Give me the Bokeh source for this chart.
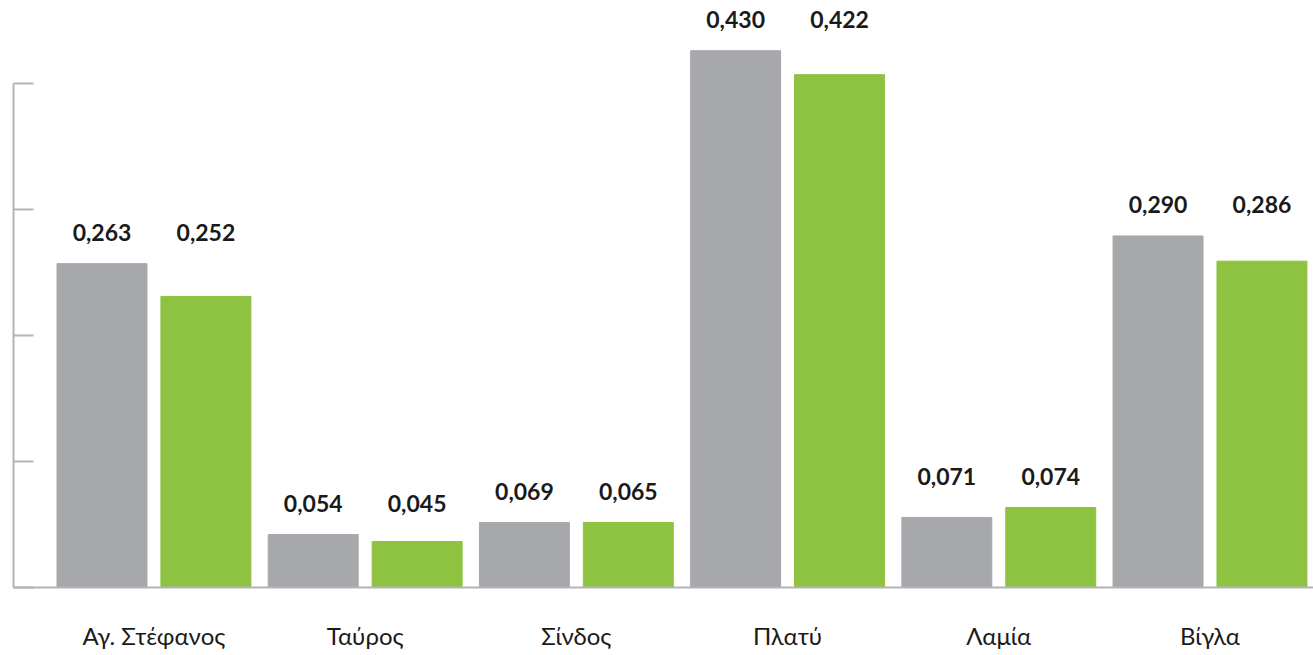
from bokeh.plotting import figure
from bokeh.models import Range1d, FixedTicker, CustomJSTickFormatter
from bokeh.core.properties import value
from bokeh.embed import file_html
from bokeh.resources import INLINE

categories = ["Αγ. Στέφανος", "Ταύρος", "Σίνδος", "Πλατύ", "Λαμία", "Βίγλα"]
gray_values = [0.257, 0.042, 0.0516, 0.426, 0.0556, 0.279]
green_values = [0.231, 0.0365, 0.0516, 0.407, 0.0635, 0.259]
gray_labels = ["0,263", "0,054", "0,069", "0,430", "0,071", "0,290"]
green_labels = ["0,252", "0,045", "0,065", "0,422", "0,074", "0,286"]
y_ticks = [0.0, 0.1, 0.2, 0.3, 0.4]

GRAY = "#a7a8ab"
GREEN = "#8dc341"
AXIS = "#b3b4b7"
TEXT = "#1a1a1a"
FONT = "Lato"

idx = list(range(len(categories)))
offset = 0.246
bar_w = 0.426
gray_x = [i - offset for i in idx]
green_x = [i + offset for i in idx]
group_top = [max(a, b) for a, b in zip(gray_values, green_values)]

p = figure(frame_width=1300, frame_height=579,
           x_range=Range1d(-0.665, 5.49), y_range=Range1d(0, 0.4595),
           output_backend="svg", toolbar_location=None,
           min_border_left=13, min_border_right=0, min_border_top=8, min_border_bottom=60)
p.outline_line_color = None
p.grid.grid_line_color = None

p.vbar(x=gray_x, top=gray_values, width=bar_w, color=GRAY)
p.vbar(x=green_x, top=green_values, width=bar_w, color=GREEN)

for xs, labels in ((gray_x, gray_labels), (green_x, green_labels)):
    p.text(x=xs, y=group_top, text=labels, text_align="center", text_baseline="alphabetic",
           y_offset=-31, text_font=value(FONT), text_font_size="23px",
           text_font_style="bold", text_color=TEXT)

xa = p.xaxis[0]
xa.ticker = FixedTicker(ticks=idx)
xa.major_label_overrides = {i: c for i, c in zip(idx, categories)}
xa.axis_line_color = AXIS
xa.axis_line_width = 2
xa.major_tick_line_color = None
xa.minor_tick_line_color = None
xa.major_label_standoff = 27
xa.major_label_text_font = FONT
xa.major_label_text_font_size = "24px"
xa.major_label_text_color = TEXT

ya = p.yaxis[0]
ya.ticker = FixedTicker(ticks=y_ticks)
ya.formatter = CustomJSTickFormatter(code="return '';")
ya.bounds = (0, 0.4)
ya.axis_line_color = AXIS
ya.axis_line_width = 2
ya.major_tick_line_color = AXIS
ya.major_tick_line_width = 2
ya.major_tick_in = 20
ya.major_tick_out = 0
ya.minor_tick_line_color = None
ya.major_label_standoff = 0

open("out.html", "w").write(file_html(p, INLINE))
